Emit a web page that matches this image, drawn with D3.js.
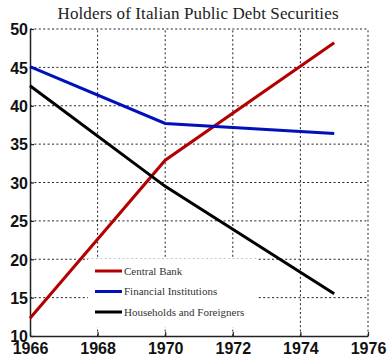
<!DOCTYPE html>
<html>
<head>
<meta charset="utf-8">
<script src="https://cdn.jsdelivr.net/npm/d3@7"></script>
<style>
  html, body { margin: 0; padding: 0; background: #fff; }
  svg { display: block; }
</style>
</head>
<body>
<svg id="chart" width="387" height="356"></svg>
<script>
// Holders of Italian public debt securities, share in percent
const years = [1966, 1970, 1975];
const centralBank = [12.3, 32.9, 48.2];
const financialInstitutions = [45.1, 37.7, 36.4];
const householdsForeigners = [42.6, 29.5, 15.5];

const seriesNames = ["Central Bank", "Financial Institutions", "Households and Foreigners"];
const seriesColors = ["#b30000", "#0010bb", "#000000"];
const xTicks = [1966, 1968, 1970, 1972, 1974, 1976];
const yTicks = [10, 15, 20, 25, 30, 35, 40, 45, 50];

const series = [centralBank, financialInstitutions, householdsForeigners];

const svg = d3.select("#chart");
const plotLeft = 30, plotRight = 368, plotTop = 29, plotBottom = 336;

const x = d3.scaleLinear().domain([1966, 1976]).range([plotLeft, plotRight]);
const y = d3.scaleLinear().domain([10, 50]).range([plotBottom, plotTop]);

// dotted grid
const grid = svg.append("g")
  .attr("stroke", "#222")
  .attr("stroke-width", 1)
  .attr("stroke-dasharray", "2,2.4")
  .attr("fill", "none");
xTicks.slice(1).forEach(t => {
  grid.append("line").attr("x1", x(t)).attr("x2", x(t)).attr("y1", plotBottom).attr("y2", plotTop);
});
yTicks.slice(1).forEach(t => {
  grid.append("line").attr("x1", plotLeft).attr("x2", plotRight).attr("y1", y(t)).attr("y2", y(t));
});

// axes
const xAxis = svg.append("g")
  .attr("transform", `translate(0,${plotBottom})`)
  .call(d3.axisBottom(x).tickValues(xTicks).tickFormat(d3.format("d")).tickSizeInner(-4).tickSizeOuter(0).tickPadding(4));
const yAxis = svg.append("g")
  .attr("transform", `translate(${plotLeft},0)`)
  .call(d3.axisLeft(y).tickValues(yTicks).tickSizeInner(-4).tickSizeOuter(0).tickPadding(2));

[xAxis, yAxis].forEach(g => {
  g.attr("font-family", null).attr("font-size", null);
  g.select(".domain").attr("stroke", "#222").attr("stroke-width", 1.5);
  g.selectAll(".tick line").attr("stroke", "#222").attr("stroke-width", 1.2);
  g.selectAll("text")
    .attr("fill", "#111")
    .style("font-family", "'Liberation Sans', Arial, sans-serif")
    .style("font-weight", "700")
    .style("font-size", "16px");
});
xAxis.selectAll("text").attr("y", 18).attr("dy", 0);
yAxis.selectAll("text").attr("dy", "0.36em");

// series lines
const line = d3.line().x((d, i) => x(years[i])).y(d => y(d));
series.forEach((s, k) => {
  svg.append("path")
    .datum(s)
    .attr("d", line)
    .attr("fill", "none")
    .attr("stroke", seriesColors[k])
    .attr("stroke-width", 3);
});

// legend
const legend = svg.append("g");
legend.append("rect")
  .attr("x", 88).attr("y", 259).attr("width", 170).attr("height", 68)
  .attr("fill", "#fff");
seriesNames.forEach((name, k) => {
  const ly = 271 + k * 20.5;
  legend.append("line")
    .attr("x1", 95).attr("x2", 122).attr("y1", ly).attr("y2", ly)
    .attr("stroke", seriesColors[k]).attr("stroke-width", 3);
  legend.append("text")
    .attr("x", 124).attr("y", ly + 3.5)
    .attr("font-family", "'Liberation Serif', 'Times New Roman', serif")
    .attr("font-size", 11)
    .attr("fill", "#333")
    .text(name);
});

// title
svg.append("text")
  .attr("x", 198).attr("y", 19)
  .attr("text-anchor", "middle")
  .attr("font-family", "'Liberation Serif', 'Times New Roman', serif")
  .attr("font-size", 17)
  .attr("textLength", 281)
  .attr("fill", "#222")
  .text("Holders of Italian Public Debt Securities");
</script>
</body>
</html>
